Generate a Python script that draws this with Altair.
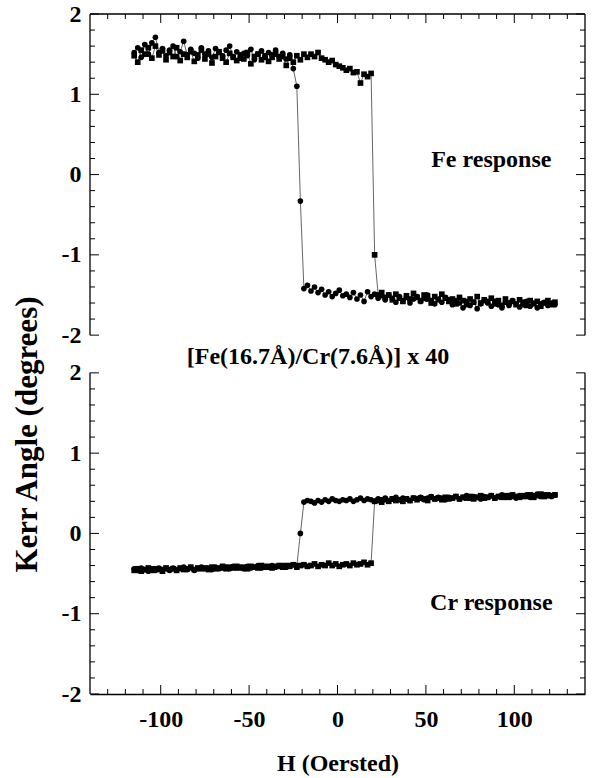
import altair as alt
import pandas as pd

# Applied field (Oe) at which each point was measured
H = [-115, -113, -111, -109, -107, -105, -103, -101, -99, -97,
     -95, -93, -91, -89, -87, -85, -83, -81, -79, -77,
     -75, -73, -71, -69, -67, -65, -63, -61, -59, -57,
     -55, -53, -51, -49, -47, -45, -43, -41, -39, -37,
     -35, -33, -31, -29, -27, -25, -23, -21, -19, -17,
     -15, -13, -11, -9, -7, -5, -3, -1, 1, 3,
     5, 7, 9, 11, 13, 15, 17, 19, 21, 23,
     25, 27, 29, 31, 33, 35, 37, 39, 41, 43,
     45, 47, 49, 51, 53, 55, 57, 59, 61, 63,
     65, 67, 69, 71, 73, 75, 77, 79, 81, 83,
     85, 87, 89, 91, 93, 95, 97, 99, 101, 103,
     105, 107, 109, 111, 113, 115, 117, 119, 121, 123]

# Fe response, increasing-field sweep (squares)
FE_UP = [1.48, 1.40, 1.55, 1.50, 1.58, 1.45, 1.60, 1.49, 1.54, 1.43,
         1.52, 1.47, 1.58, 1.42, 1.50, 1.46, 1.53, 1.41, 1.49, 1.55,
         1.44, 1.50, 1.39, 1.47, 1.53, 1.45, 1.40, 1.51, 1.46, 1.42,
         1.49, 1.44, 1.52, 1.38, 1.47, 1.50, 1.43, 1.48, 1.41, 1.46,
         1.50, 1.44, 1.47, 1.36, 1.45, 1.40, 1.48, 1.43, 1.50, 1.46,
         1.50, 1.47, 1.52, 1.45, 1.43, 1.40, 1.42, 1.37, 1.35, 1.33,
         1.30, 1.32, 1.27, 1.28, 1.14, 1.25, 1.22, 1.26, -1.00, -1.50,
         -1.47, -1.53, -1.50, -1.56, -1.49, -1.54, -1.58, -1.51, -1.55, -1.48,
         -1.53, -1.57, -1.50, -1.55, -1.60, -1.52, -1.56, -1.49, -1.54, -1.58,
         -1.55, -1.61, -1.53, -1.57, -1.62, -1.55, -1.59, -1.52, -1.60, -1.56,
         -1.58, -1.54, -1.61, -1.57, -1.63, -1.55, -1.60, -1.58, -1.62, -1.56,
         -1.59, -1.63, -1.57, -1.61, -1.58, -1.64, -1.60, -1.57, -1.62, -1.59]

# Fe response, decreasing-field sweep (circles)
FE_DOWN = [1.52, 1.58, 1.46, 1.62, 1.50, 1.64, 1.71, 1.52, 1.57, 1.48,
           1.55, 1.60, 1.47, 1.53, 1.66, 1.49, 1.56, 1.51, 1.45, 1.58,
           1.50, 1.54, 1.46, 1.57, 1.52, 1.48, 1.55, 1.60, 1.47, 1.53,
           1.45, 1.51, 1.48, 1.56, 1.43, 1.50, 1.54, 1.46, 1.52, 1.49,
           1.55, 1.47, 1.51, 1.44, 1.49, 1.32, 1.10, -0.33, -1.42, -1.38,
           -1.45, -1.40, -1.47, -1.43, -1.50, -1.46, -1.52, -1.48, -1.44, -1.51,
           -1.49, -1.53, -1.47, -1.55, -1.50, -1.58, -1.46, -1.52, -1.49, -1.54,
           -1.51, -1.56, -1.50, -1.54, -1.59, -1.52, -1.57, -1.53, -1.60, -1.55,
           -1.52, -1.58, -1.54, -1.50, -1.57, -1.61, -1.55, -1.59, -1.53, -1.56,
           -1.62, -1.57, -1.60, -1.66, -1.58, -1.63, -1.59, -1.67, -1.61, -1.57,
           -1.60, -1.64, -1.58, -1.62, -1.66, -1.59, -1.63, -1.57, -1.61, -1.65,
           -1.62, -1.58, -1.64, -1.60, -1.66, -1.61, -1.59, -1.63, -1.60, -1.62]

# Cr response, increasing-field sweep (squares)
CR_UP = [-0.46, -0.44, -0.47, -0.45, -0.43, -0.46, -0.44, -0.45, -0.47, -0.43,
         -0.45, -0.44, -0.46, -0.43, -0.45, -0.44, -0.42, -0.45, -0.43, -0.44,
         -0.43, -0.45, -0.42, -0.44, -0.43, -0.41, -0.44, -0.42, -0.43, -0.41,
         -0.43, -0.42, -0.44, -0.41, -0.42, -0.43, -0.40, -0.42, -0.41, -0.43,
         -0.41, -0.40, -0.42, -0.40, -0.41, -0.39, -0.42, -0.40, -0.39, -0.41,
         -0.40, -0.38, -0.41, -0.39, -0.40, -0.37, -0.40, -0.38, -0.41, -0.39,
         -0.38, -0.40, -0.37, -0.39, -0.38, -0.36, -0.39, -0.37, 0.40, 0.41,
         0.39, 0.42, 0.40, 0.43, 0.41, 0.42, 0.40, 0.43, 0.41, 0.44,
         0.42, 0.44, 0.43, 0.41, 0.45, 0.43, 0.44, 0.42, 0.45, 0.43,
         0.44, 0.46, 0.43, 0.45, 0.44, 0.46, 0.43, 0.45, 0.47, 0.44,
         0.45, 0.47, 0.44, 0.46, 0.45, 0.47, 0.45, 0.48, 0.46, 0.45,
         0.47, 0.46, 0.48, 0.45, 0.47, 0.49, 0.46, 0.48, 0.47, 0.48]

# Cr response, decreasing-field sweep (circles)
CR_DOWN = [-0.44, -0.46, -0.43, -0.45, -0.47, -0.44, -0.46, -0.43, -0.45, -0.44,
           -0.46, -0.43, -0.45, -0.44, -0.42, -0.45, -0.43, -0.46, -0.44, -0.42,
           -0.44, -0.43, -0.45, -0.42, -0.44, -0.43, -0.42, -0.44, -0.41, -0.43,
           -0.42, -0.44, -0.41, -0.43, -0.42, -0.40, -0.43, -0.41, -0.42, -0.40,
           -0.42, -0.41, -0.40, -0.42, -0.40, -0.39, -0.40, 0.00, 0.39, 0.41,
           0.40, 0.38, 0.41, 0.39, 0.42, 0.40, 0.43, 0.41, 0.40, 0.42,
           0.41, 0.43, 0.40, 0.42, 0.44, 0.41, 0.43, 0.42, 0.40, 0.43,
           0.42, 0.44, 0.41, 0.43, 0.45, 0.42, 0.44, 0.43, 0.41, 0.44,
           0.43, 0.45, 0.42, 0.44, 0.46, 0.43, 0.45, 0.44, 0.42, 0.45,
           0.44, 0.46, 0.43, 0.45, 0.47, 0.44, 0.46, 0.45, 0.43, 0.46,
           0.45, 0.47, 0.44, 0.46, 0.48, 0.45, 0.47, 0.46, 0.44, 0.47,
           0.46, 0.48, 0.45, 0.47, 0.49, 0.46, 0.48, 0.47, 0.46, 0.48]

PANELS = ["Fe", "Cr"]
X_MAJOR = [-100, -50, 0, 50, 100]
X_MINOR = [-130, -120, -110, -90, -80, -70, -60, -40, -30, -20, -10,
           10, 20, 30, 40, 60, 70, 80, 90, 110, 120, 130]
Y_MAJOR = [-2, -1, 0, 1, 2]
Y_MINOR = [-1.8, -1.6, -1.4, -1.2, -0.8, -0.6, -0.4, -0.2,
           0.2, 0.4, 0.6, 0.8, 1.2, 1.4, 1.6, 1.8]
X_DOMAIN = [-140, 140]
Y_DOMAIN = [-2, 2]

# layout constants: the Fe panel is stacked above the Cr panel
OFF = 4.47          # vertical shift (in Kerr-angle units) of the Fe panel
W, HT = 495, 680    # plot area in pixels
FONT = "Liberation Serif"
MAJ, MIN = 9, 5

XS = alt.Scale(domain=X_DOMAIN, nice=False, zero=False)
YS = alt.Scale(domain=[Y_DOMAIN[0], Y_DOMAIN[1] + OFF], nice=False, zero=False)
SHIFT = f"(datum.p == 'Fe' ? {OFF} : 0)"
RAW = f"(datum.value > 2.2 ? datum.value - {OFF} : datum.value)"
YLBL = f"round({RAW}) < 0 ? '-' + abs(round({RAW})) : '' + round({RAW})"
XLBL = "datum.value < 0 ? '-' + abs(datum.value) : '' + datum.value"

n = len(H)
df = pd.DataFrame({
    "H": H * 4,
    "K": FE_UP + FE_DOWN + CR_UP + CR_DOWN,
    "p": ["Fe"] * (2 * n) + ["Cr"] * (2 * n),
    "sweep": (["up"] * n + ["down"] * n) * 2,
})
df["key"] = df["p"] + "_" + df["sweep"]

base = alt.Chart(df).transform_calculate(Y=f"datum.K + {SHIFT}")

lines = base.mark_line(color="#555555", strokeWidth=0.9).encode(
    x=alt.X("H:Q", scale=XS,
            axis=alt.Axis(orient="bottom", values=X_MAJOR, ticks=False, grid=False,
                          domain=True, title="H (Oersted)", labelExpr=XLBL,
                          labelPadding=13, titlePadding=20)),
    y=alt.Y("Y:Q", scale=YS,
            axis=alt.Axis(orient="left",
                          values=Y_MAJOR + [v + OFF for v in Y_MAJOR],
                          ticks=False, grid=False, domain=False,
                          labelExpr=YLBL, labelPadding=9,
                          title="Kerr Angle (degrees)",
                          titleX=-63, titleY=420, titleAngle=270, titleFontSize=31,
                          titleAlign="center", titleBaseline="middle")),
    detail="key:N",
    order="H:Q",
)

pts = base.mark_point(filled=True, color="black", opacity=1, size=32).encode(
    x=alt.X("H:Q", scale=XS),
    y=alt.Y("Y:Q", scale=YS),
    shape=alt.Shape("sweep:N",
                    scale=alt.Scale(domain=["down", "up"], range=["circle", "square"]),
                    legend=None),
)

# frame: vertical sides of both panels and top edge of the Fe panel
frame_df = pd.DataFrame({"lo": [Y_DOMAIN[0]] * 2, "hi": [Y_DOMAIN[1]] * 2, "p": PANELS})
frame = alt.Chart(frame_df).transform_calculate(
    lo2=f"datum.lo + {SHIFT}", hi2=f"datum.hi + {SHIFT}")
left_side = frame.mark_rule(color="black", strokeWidth=1.3).encode(
    x=alt.value(0), y=alt.Y("lo2:Q", scale=YS), y2="hi2:Q")
right_side = frame.mark_rule(color="black", strokeWidth=1.3).encode(
    x=alt.value(W), y=alt.Y("lo2:Q", scale=YS), y2="hi2:Q")
top_edge = alt.Chart(pd.DataFrame({"a": [X_DOMAIN[0]], "b": [X_DOMAIN[1]]})).mark_rule(
    color="black", strokeWidth=1.3).encode(
    x=alt.X("a:Q", scale=XS), x2="b:Q", y=alt.value(0))


def xticks(vals, ln):
    d = alt.Chart(pd.DataFrame({"v": vals}))
    return [
        d.mark_rule(color="black", strokeWidth=1).encode(
            x=alt.X("v:Q", scale=XS), y=alt.value(0), y2=alt.value(ln)),
        d.mark_rule(color="black", strokeWidth=1).encode(
            x=alt.X("v:Q", scale=XS), y=alt.value(HT), y2=alt.value(HT - ln)),
    ]


def yticks(vals, ln):
    d = alt.Chart(pd.DataFrame({"v": vals * 2, "p": ["Fe"] * len(vals) + ["Cr"] * len(vals)})
                  ).transform_calculate(Y=f"datum.v + {SHIFT}")
    return [
        d.mark_rule(color="black", strokeWidth=1).encode(
            y=alt.Y("Y:Q", scale=YS), x=alt.value(0), x2=alt.value(ln)),
        d.mark_rule(color="black", strokeWidth=1).encode(
            y=alt.Y("Y:Q", scale=YS), x=alt.value(W), x2=alt.value(W - ln)),
    ]


labels_df = pd.DataFrame({
    "H": [87, 87, -11],
    "K": [0.18, -0.87, 2.2],
    "p": ["Fe", "Cr", "Cr"],
    "t": ["Fe response", "Cr response", "[Fe(16.7Å)/Cr(7.6Å)] x 40"],
})
texts = alt.Chart(labels_df).transform_calculate(Y=f"datum.K + {SHIFT}").mark_text(
    font=FONT, fontSize=24, fontWeight="bold", color="black",
    align="center", baseline="middle",
).encode(
    x=alt.X("H:Q", scale=XS),
    y=alt.Y("Y:Q", scale=YS),
    text="t:N",
)

chart = alt.layer(
    lines, pts, left_side, right_side, top_edge,
    *xticks(X_MAJOR, MAJ), *xticks(X_MINOR, MIN),
    *yticks(Y_MAJOR, MAJ), *yticks(Y_MINOR, MIN),
    texts,
).properties(
    width=W, height=HT,
    autosize=alt.AutoSizeParams(type="none"),
    padding={"left": 90, "top": 14, "right": 9, "bottom": 84},
).configure_view(stroke=None).configure_axis(
    domainColor="black", domainWidth=1.3,
    labelFont=FONT, labelFontSize=24, labelFontWeight="bold", labelColor="black",
    titleFont=FONT, titleFontSize=24, titleFontWeight="bold", titleColor="black",
)

chart.save("out.html", embed_options={"renderer": "svg", "actions": False})
